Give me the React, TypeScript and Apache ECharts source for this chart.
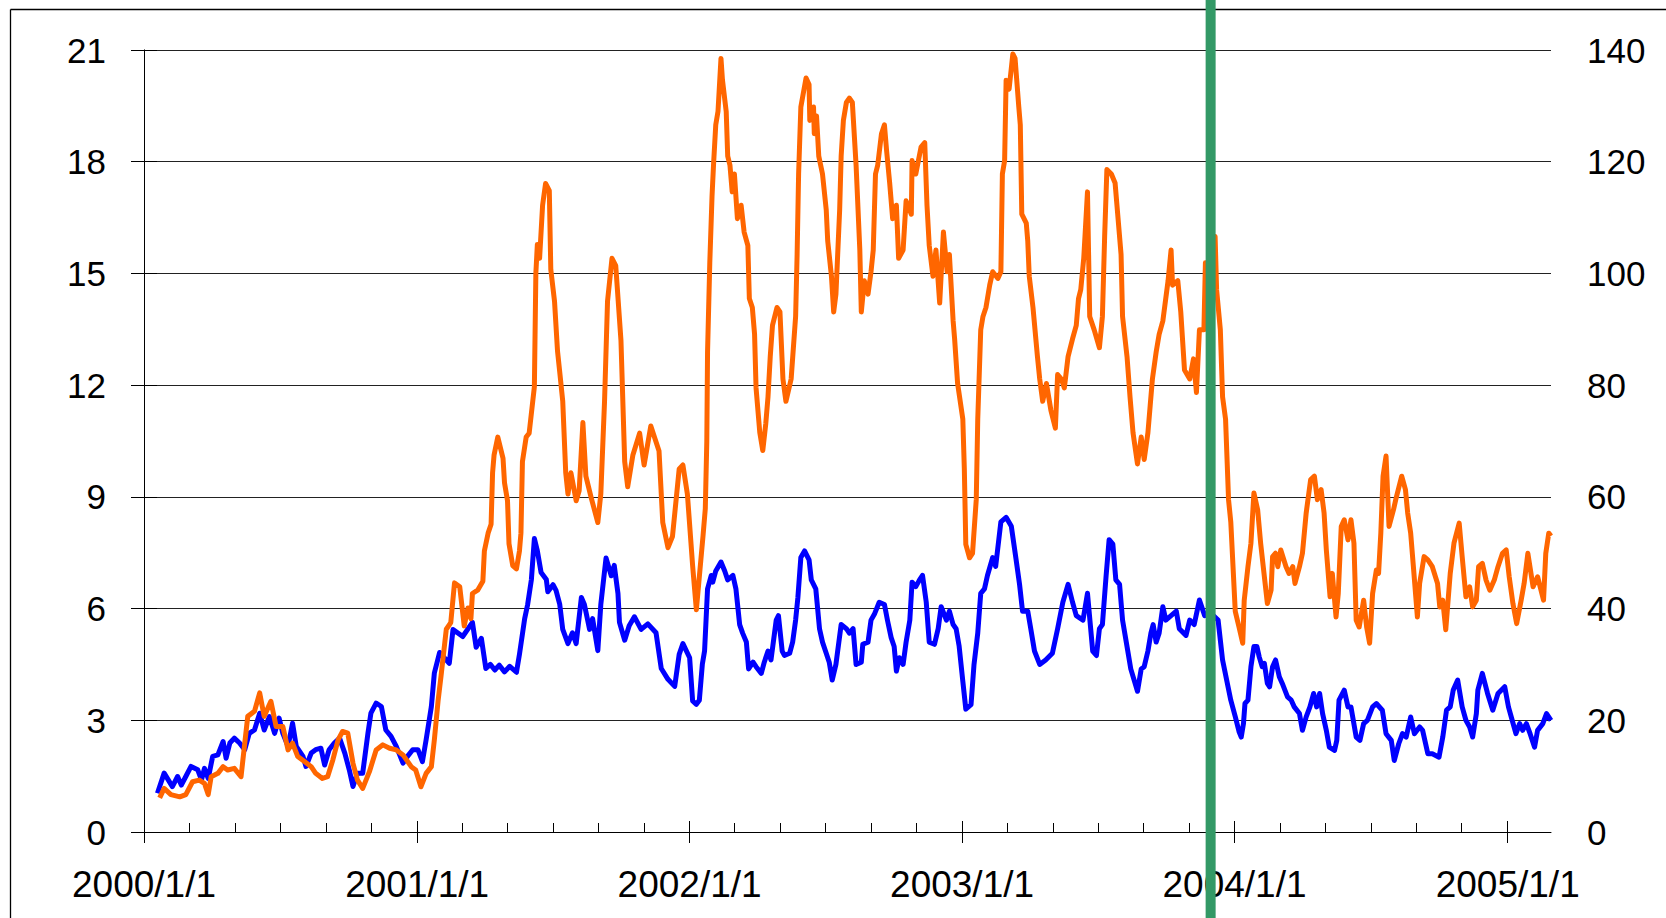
import { useEffect, useRef } from "react";
import * as echarts from "echarts";

// x values are days counted from 2000-01-01
const YEAR_TICKS = [0, 366, 731, 1096, 1461, 1827];
const YEAR_LABELS = ["2000/1/1", "2001/1/1", "2002/1/1", "2003/1/1", "2004/1/1", "2005/1/1"];
const X_MAX = 1885; // 2005-02-28
const MARKER_DAY = 1429; // 2003-11-30

const LEFT_TICKS = { min: 0, max: 21, interval: 3 };
const RIGHT_TICKS = { min: 0, max: 140, interval: 20 };

// blue series, left axis
const BLUE: [number, number][] = [
  [18, 1.04], [27, 1.58], [38, 1.22], [45, 1.49], [50, 1.26], [56, 1.49], [63, 1.76], [72, 1.67], [77, 1.4], [81, 1.71],
  [86, 1.44], [92, 2.03], [99, 2.07], [106, 2.43], [110, 1.98], [115, 2.39], [121, 2.52], [128, 2.39], [135, 2.21], [141, 2.65],
  [148, 2.74], [155, 3.19], [161, 2.74], [168, 3.1], [175, 2.65], [181, 3.06], [186, 2.65], [193, 2.3], [199, 2.92], [204, 2.3],
  [213, 2.03], [217, 1.76], [224, 2.12], [230, 2.21], [237, 2.25], [242, 1.8], [248, 2.21], [255, 2.39], [262, 2.52], [269, 2.12],
  [275, 1.67], [280, 1.22], [286, 1.58], [293, 1.58], [300, 2.65], [304, 3.19], [311, 3.46], [318, 3.37], [324, 2.74], [331, 2.57],
  [338, 2.3], [347, 1.85], [353, 2.03], [360, 2.21], [367, 2.21], [373, 1.89], [378, 2.48], [385, 3.37], [389, 4.27],
  [396, 4.82], [409, 4.53], [414, 5.44], [427, 5.25], [440, 5.63], [445, 4.96], [452, 5.2], [458, 4.39], [464, 4.5], [470, 4.35],
  [476, 4.48], [483, 4.3], [490, 4.45], [499, 4.29], [503, 4.77], [510, 5.73], [514, 6.11], [519, 6.78], [523, 7.88], [527, 7.55],
  [532, 6.97], [539, 6.78], [541, 6.45], [548, 6.64], [552, 6.49], [557, 6.11], [561, 5.44], [568, 5.06], [574, 5.35], [579, 5.06],
  [586, 6.3], [590, 6.11], [597, 5.44], [601, 5.73], [608, 4.87], [612, 6.11], [619, 7.36], [626, 6.88], [630, 7.16], [635, 6.4],
  [637, 5.63], [644, 5.15], [650, 5.54], [657, 5.78], [666, 5.44], [675, 5.59], [686, 5.35], [693, 4.39], [702, 4.1], [711, 3.91],
  [717, 4.77], [722, 5.06], [731, 4.68], [735, 3.52], [740, 3.43], [744, 3.54], [748, 4.5], [751, 4.86], [753, 5.69], [755, 6.53],
  [760, 6.89], [762, 6.71], [766, 7.01], [773, 7.25], [778, 7.01], [782, 6.77], [789, 6.89], [793, 6.53], [798, 5.57], [802, 5.34],
  [807, 5.1], [810, 4.38], [816, 4.56], [820, 4.44], [827, 4.26], [831, 4.56], [836, 4.86], [840, 4.62], [847, 5.69], [850, 5.81],
  [855, 4.86], [858, 4.74], [865, 4.8], [869, 5.1], [873, 5.69], [876, 6.29], [880, 7.37], [885, 7.55], [891, 7.31], [894, 6.77],
  [900, 6.53], [905, 5.46], [909, 5.1], [914, 4.8], [918, 4.56], [922, 4.08], [927, 4.5], [934, 5.57], [941, 5.46], [945, 5.34],
  [950, 5.46], [954, 4.5], [961, 4.56], [963, 5.04], [970, 5.1], [974, 5.69], [979, 5.87], [985, 6.17], [992, 6.11], [996, 5.69],
  [1001, 5.22], [1005, 4.98], [1008, 4.32], [1012, 4.68], [1017, 4.5], [1021, 5.1], [1026, 5.69], [1029, 6.71], [1034, 6.59], [1039, 6.77],
  [1043, 6.89], [1048, 6.17], [1052, 5.1], [1059, 5.04], [1064, 5.46], [1068, 6.05], [1075, 5.69], [1079, 5.93], [1084, 5.57], [1088, 5.46],
  [1092, 5.0], [1097, 4.05], [1101, 3.3], [1108, 3.42], [1112, 4.5], [1117, 5.34], [1121, 6.41], [1126, 6.53], [1130, 6.89], [1137, 7.37],
  [1141, 7.13], [1148, 8.33], [1155, 8.45], [1162, 8.21], [1168, 7.37], [1173, 6.65], [1177, 5.93], [1184, 5.93], [1188, 5.46], [1193, 4.86],
  [1200, 4.5], [1208, 4.62], [1217, 4.8], [1224, 5.46], [1231, 6.17], [1238, 6.65], [1244, 6.17], [1249, 5.81], [1258, 5.69], [1264, 6.41],
  [1271, 4.86], [1276, 4.74], [1280, 5.46], [1284, 5.57], [1289, 6.89], [1293, 7.85], [1298, 7.73], [1302, 6.77], [1307, 6.65], [1311, 5.69],
  [1318, 4.86], [1322, 4.38], [1331, 3.78], [1336, 4.38], [1340, 4.44], [1345, 4.86], [1349, 5.34], [1352, 5.57], [1356, 5.1], [1360, 5.34],
  [1365, 6.05], [1369, 5.69], [1383, 5.93], [1387, 5.46], [1396, 5.28], [1401, 5.69], [1407, 5.57], [1414, 6.23], [1421, 5.81], [1428, 5.9],
  [1439, 5.69], [1445, 4.62], [1456, 3.54], [1462, 3.1], [1467, 2.7], [1470, 2.55], [1473, 2.91], [1475, 3.45], [1479, 3.54], [1483, 4.44],
  [1487, 4.98], [1491, 4.98], [1494, 4.71], [1498, 4.44], [1501, 4.53], [1505, 3.99], [1508, 3.9], [1512, 4.44], [1516, 4.62], [1521, 4.17],
  [1525, 3.99], [1532, 3.63], [1537, 3.54], [1541, 3.36], [1548, 3.18], [1552, 2.73], [1557, 3.09], [1562, 3.36], [1567, 3.72], [1571, 3.36],
  [1575, 3.72], [1579, 3.18], [1584, 2.73], [1588, 2.28], [1595, 2.19], [1598, 2.46], [1601, 3.54], [1608, 3.81], [1613, 3.36], [1617, 3.36],
  [1624, 2.55], [1629, 2.46], [1634, 2.91], [1639, 3.0], [1646, 3.36], [1651, 3.45], [1659, 3.27], [1664, 2.64], [1671, 2.46], [1675, 1.92],
  [1681, 2.37], [1686, 2.64], [1691, 2.55], [1697, 3.09], [1702, 2.64], [1709, 2.82], [1713, 2.73], [1720, 2.1], [1726, 2.1], [1735, 2.01],
  [1740, 2.55], [1745, 3.27], [1750, 3.36], [1754, 3.81], [1760, 4.08], [1766, 3.36], [1771, 3.0], [1776, 2.82], [1780, 2.55], [1785, 3.18],
  [1787, 3.81], [1793, 4.26], [1800, 3.72], [1807, 3.27], [1814, 3.72], [1823, 3.9], [1828, 3.36], [1833, 3.0], [1838, 2.64], [1843, 2.91],
  [1847, 2.73], [1852, 2.91], [1857, 2.64], [1863, 2.28], [1867, 2.73], [1874, 2.91], [1879, 3.18], [1885, 3.0],
];

// orange series, right axis
const ORANGE: [number, number][] = [
  [21, 6.1], [27, 7.8], [36, 6.7], [48, 6.3], [56, 6.7], [65, 9.0], [74, 9.3], [81, 8.7], [86, 6.7], [90, 9.9],
  [99, 10.5], [106, 11.7], [112, 11.1], [121, 11.4], [130, 9.9], [139, 20.7], [148, 21.6], [155, 24.9], [161, 20.7], [170, 23.4],
  [177, 18.9], [186, 18.9], [193, 14.7], [199, 15.9], [206, 13.5], [215, 12.6], [224, 11.7], [230, 10.5], [239, 9.6], [246, 9.9],
  [253, 12.9], [260, 16.5], [266, 18.0], [273, 17.7], [280, 12.3], [286, 9.3], [293, 7.8], [302, 10.8], [311, 14.7], [320, 15.6],
  [329, 15.0], [338, 14.7], [347, 13.8], [358, 11.7], [364, 11.1], [371, 8.1], [378, 10.5], [385, 11.7], [389, 16.5], [394, 23.5],
  [398, 28.0], [405, 36.3], [411, 37.5], [416, 44.6], [423, 43.9], [429, 36.9], [434, 40.1], [438, 38.2], [440, 42.7], [447, 43.3],
  [454, 44.9], [456, 50.3], [461, 53.5], [465, 55.1], [467, 64.3], [469, 67.5], [474, 70.7], [481, 66.9], [483, 62.5], [487, 59.3],
  [489, 51.6], [494, 47.7], [499, 47.1], [503, 50.3], [505, 53.5], [507, 66.3], [512, 70.7], [516, 71.4], [523, 79.7], [525, 100.1],
  [527, 105.2], [530, 102.7], [534, 112.2], [538, 116.1], [543, 114.8], [545, 100.7], [550, 95.0], [554, 86.1], [557, 82.3], [561, 77.1],
  [565, 64.3], [568, 60.5], [572, 64.3], [579, 59.3], [583, 61.1], [588, 73.3], [592, 63.7], [599, 59.9], [608, 55.4], [612, 60.5],
  [617, 77.1], [621, 95.0], [627, 102.7], [632, 101.4], [639, 88.0], [644, 66.3], [648, 61.8], [655, 67.5], [664, 71.4], [670, 65.7],
  [679, 72.7], [690, 68.2], [695, 55.4], [702, 50.9], [708, 52.9], [717, 65.0], [722, 65.7], [728, 60.5], [735, 47.7], [740, 39.8],
  [749, 53.1], [752, 57.9], [754, 69.9], [755, 85.9], [758, 101.9], [761, 113.8], [763, 119.4], [766, 126.6], [769, 129.0], [773, 138.5],
  [775, 134.6], [780, 129.0], [782, 121.0], [785, 119.4], [788, 114.6], [791, 117.8], [795, 109.8], [800, 112.2], [804, 107.4], [809, 105.0],
  [811, 95.5], [815, 93.9], [818, 89.1], [820, 79.5], [825, 71.5], [829, 68.3], [833, 73.1], [836, 77.9], [839, 85.1], [842, 90.7],
  [848, 93.9], [852, 93.1], [856, 81.1], [860, 77.1], [867, 81.1], [873, 92.3], [875, 103.4], [877, 117.8], [880, 129.8], [887, 135.0],
  [891, 133.8], [892, 127.4], [897, 129.8], [898, 125.0], [901, 128.2], [904, 121.0], [909, 117.8], [914, 111.4], [916, 105.8], [921, 99.5],
  [924, 93.1], [927, 96.3], [932, 111.4], [934, 121.0], [937, 127.4], [941, 130.6], [945, 131.4], [949, 130.6], [954, 119.4], [959, 104.2],
  [961, 93.1], [965, 98.7], [970, 96.3], [974, 100.3], [977, 104.2], [980, 117.8], [983, 119.4], [988, 125.0], [992, 126.6], [995, 121.8],
  [999, 116.2], [1003, 109.8], [1008, 112.2], [1011, 102.7], [1017, 104.2], [1021, 113.0], [1028, 110.6], [1029, 120.2], [1034, 117.8], [1041, 122.6],
  [1046, 123.4], [1049, 112.2], [1052, 105.0], [1057, 99.5], [1061, 104.2], [1066, 94.7], [1071, 107.4], [1076, 100.3], [1079, 103.4], [1084, 91.5],
  [1086, 88.3], [1090, 80.3], [1097, 73.9], [1099, 65.1], [1101, 51.5], [1106, 49.1], [1110, 49.9], [1115, 59.5], [1117, 73.9], [1121, 89.9],
  [1124, 92.3], [1128, 93.9], [1133, 97.9], [1137, 100.3], [1144, 99.1], [1148, 100.3], [1150, 117.8], [1153, 120.2], [1155, 134.6], [1159, 133.0],
  [1164, 139.3], [1167, 138.5], [1172, 129.8], [1174, 126.6], [1176, 110.6], [1182, 109.0], [1184, 105.8], [1186, 99.5], [1191, 93.9], [1197, 85.1],
  [1200, 81.1], [1204, 77.1], [1209, 80.3], [1215, 75.5], [1221, 72.3], [1224, 81.9], [1229, 81.1], [1233, 79.5], [1238, 85.1], [1244, 88.3],
  [1249, 90.7], [1252, 95.5], [1255, 97.1], [1259, 102.7], [1264, 114.6], [1267, 92.3], [1273, 89.9], [1280, 86.7], [1284, 92.3], [1287, 106.6],
  [1290, 118.6], [1296, 117.8], [1301, 116.2], [1305, 109.8], [1309, 103.4], [1311, 92.3], [1317, 85.1], [1321, 77.9], [1325, 71.5], [1331, 65.9],
  [1336, 70.7], [1340, 66.7], [1345, 71.5], [1348, 76.3], [1351, 81.1], [1356, 85.9], [1360, 89.1], [1365, 91.5], [1372, 98.7], [1376, 104.2],
  [1378, 97.9], [1385, 98.7], [1389, 93.1], [1394, 82.7], [1401, 81.1], [1406, 84.7], [1410, 78.7], [1414, 89.9], [1420, 89.9], [1422, 101.9],
  [1426, 97.3], [1430, 103.3], [1435, 106.6], [1437, 97.1], [1442, 89.9], [1445, 77.9], [1449, 73.9], [1453, 59.5], [1456, 55.5], [1462, 39.5],
  [1467, 36.7], [1472, 33.8], [1474, 41.5], [1479, 47.5], [1483, 51.7], [1487, 60.7], [1492, 57.7], [1496, 51.7], [1501, 45.7], [1505, 40.9],
  [1510, 43.3], [1512, 49.3], [1516, 49.9], [1519, 47.5], [1523, 50.5], [1530, 47.5], [1534, 46.3], [1539, 47.5], [1542, 44.5], [1548, 47.5],
  [1552, 49.9], [1557, 57.1], [1563, 63.1], [1568, 63.7], [1572, 59.5], [1577, 61.3], [1581, 57.1], [1584, 50.5], [1589, 42.1], [1592, 46.3],
  [1597, 38.5], [1600, 42.7], [1604, 54.7], [1608, 55.9], [1613, 52.3], [1617, 55.9], [1621, 51.7], [1624, 37.9], [1628, 36.7], [1634, 41.5],
  [1638, 36.7], [1642, 33.8], [1646, 42.7], [1651, 46.9], [1654, 46.3], [1657, 53.5], [1660, 63.7], [1664, 67.3], [1668, 54.7], [1674, 57.7],
  [1677, 59.5], [1685, 63.7], [1690, 61.3], [1693, 57.1], [1697, 53.5], [1701, 46.9], [1706, 38.5], [1709, 44.5], [1715, 49.3], [1720, 48.7],
  [1726, 47.5], [1733, 44.5], [1736, 40.3], [1740, 41.5], [1744, 36.2], [1750, 46.3], [1755, 51.7], [1762, 55.3], [1766, 49.3], [1771, 42.1],
  [1776, 43.9], [1780, 40.3], [1785, 41.5], [1788, 47.5], [1793, 48.1], [1798, 45.1], [1803, 43.3], [1809, 45.1], [1814, 47.5], [1820, 49.9],
  [1825, 50.5], [1829, 45.7], [1834, 40.9], [1839, 37.3], [1845, 41.5], [1849, 44.5], [1854, 49.9], [1861, 43.9], [1867, 45.7], [1875, 41.5],
  [1878, 49.9], [1882, 53.5], [1885, 53.0],
];

const FONT = "'Liberation Sans', Arial, sans-serif";

export default function App() {
  const ref = useRef<HTMLDivElement>(null);

  useEffect(() => {
    document.body.style.margin = "0";
    if (!ref.current) return;
    const chart = echarts.init(ref.current, undefined, { renderer: "svg" });

    const yearLabel = (v: number) => {
      const i = YEAR_TICKS.findIndex((t) => Math.abs(t - v) < 2);
      return i >= 0 ? YEAR_LABELS[i] : "";
    };

    chart.setOption({
      animation: false,
      backgroundColor: "#ffffff",
      grid: { left: 144, right: 115, top: 50, bottom: 86, containLabel: false, outerBoundsMode: "none" },
      xAxis: [
        {
          type: "value",
          min: 0,
          max: X_MAX,
          interval: 365.25,
          position: "bottom",
          axisLine: { show: true, onZero: false, lineStyle: { color: "#000", width: 1 } },
          axisTick: { show: true, inside: true, length: 11, customValues: YEAR_TICKS, lineStyle: { color: "#000", width: 1 } },
          minorTick: { show: true, splitNumber: 6, length: 9, lineStyle: { color: "#000", width: 1 } },
          axisLabel: {
            show: true,
            customValues: YEAR_TICKS,
            formatter: yearLabel,
            margin: 34,
            fontSize: 37,
            color: "#000",
            fontFamily: FONT,
            showMinLabel: true,
            showMaxLabel: true,
            hideOverlap: false,
          },
          splitLine: { show: false },
        },
        {
          type: "value",
          min: 0,
          max: X_MAX,
          interval: 365.25,
          position: "bottom",
          axisLine: { show: false, onZero: false },
          axisTick: { show: true, inside: false, length: 11, customValues: YEAR_TICKS, lineStyle: { color: "#000", width: 1 } },
          axisLabel: { show: false },
          splitLine: { show: false },
        },
      ],
      yAxis: [
        {
          type: "value",
          position: "left",
          ...LEFT_TICKS,
          axisLine: { show: true, lineStyle: { color: "#707070", width: 1 } },
          axisTick: { show: true, inside: true, length: 13, lineStyle: { color: "#000", width: 1 } },
          axisLabel: { margin: 38, fontSize: 35, color: "#000", fontFamily: FONT },
          splitLine: { show: true, lineStyle: { color: "#222", width: 1 } },
        },
        {
          type: "value",
          position: "right",
          ...RIGHT_TICKS,
          axisLine: { show: true, lineStyle: { color: "#000", width: 1 } },
          axisTick: { show: true, inside: true, length: 13, lineStyle: { color: "#000", width: 1 } },
          axisLabel: { margin: 36, fontSize: 35, color: "#000", fontFamily: FONT },
          splitLine: { show: false },
        },
      ],
      series: [
        {
          name: "blue",
          type: "line",
          xAxisIndex: 0,
          yAxisIndex: 0,
          data: BLUE,
          showSymbol: false,
          symbol: "none",
          lineStyle: { color: "#0000ff", width: 5, join: "round" },
          itemStyle: { color: "#0000ff" },
          z: 2,
        },
        {
          name: "orange",
          type: "line",
          xAxisIndex: 0,
          yAxisIndex: 1,
          data: ORANGE,
          showSymbol: false,
          symbol: "none",
          lineStyle: { color: "#ff6600", width: 5, join: "round" },
          itemStyle: { color: "#ff6600" },
          z: 3,
        },
      ],
    });

    const px = chart.convertToPixel({ xAxisIndex: 0 }, MARKER_DAY) as number;
    chart.setOption({
      graphic: [
        {
          type: "line",
          shape: { x1: 10.5, y1: 9.5, x2: 10.5, y2: 918 },
          style: { stroke: "#000", lineWidth: 1.3 },
          silent: true,
        },
        {
          type: "line",
          shape: { x1: 10.5, y1: 9.5, x2: 1666, y2: 9.5 },
          style: { stroke: "#000", lineWidth: 1.3 },
          silent: true,
        },
        {
          type: "rect",
          shape: { x: px - 5, y: 0, width: 10, height: 918 },
          style: { fill: "#339966" },
          z: 100,
          silent: true,
        },
      ],
    });

    return () => chart.dispose();
  }, []);

  return (
    <div
      ref={ref}
      style={{ position: "absolute", left: 0, top: 0, width: 1666, height: 918, background: "#fff" }}
    />
  );
}
